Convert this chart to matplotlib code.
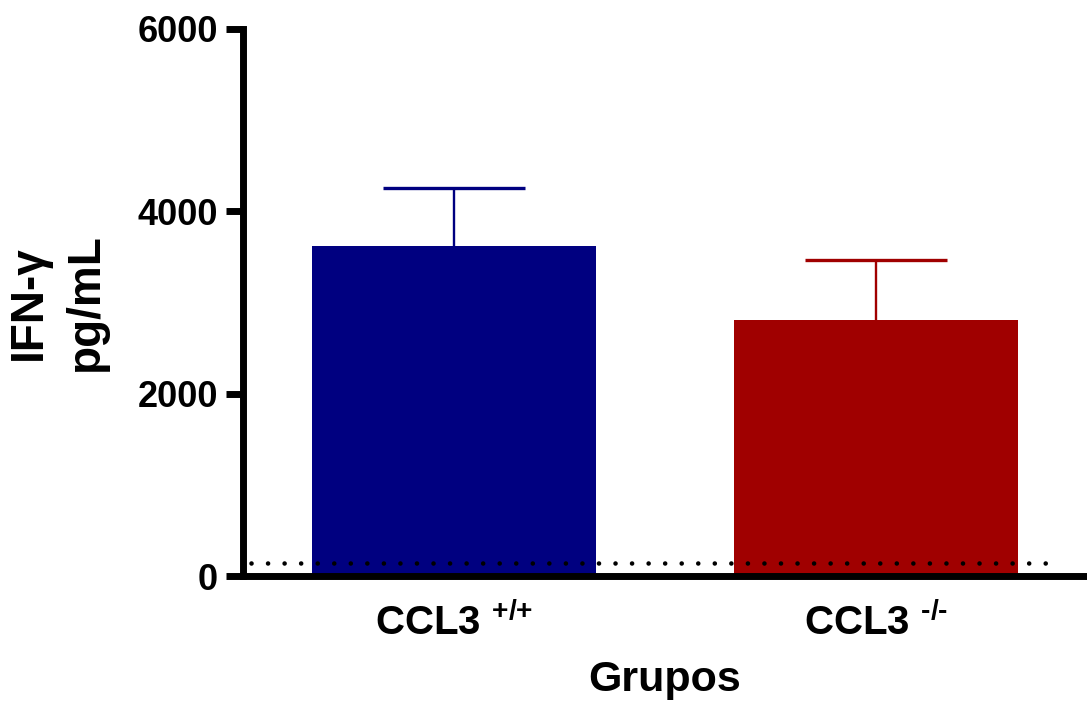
import matplotlib.pyplot as plt
import numpy as np

plt.rcParams['font.family'] = ['Liberation Sans', 'DejaVu Sans']
plt.rcParams['font.weight'] = 'bold'
plt.rcParams['mathtext.fontset'] = 'custom'
plt.rcParams['mathtext.rm'] = 'Liberation Sans:bold'
plt.rcParams['mathtext.bf'] = 'Liberation Sans:bold'
plt.rcParams['mathtext.it'] = 'Liberation Sans:bold'

# data
groups = [r'CCL3 $^{\text{+/+}}$', r'CCL3 $^{\text{-/-}}$']
means = [3620, 2810]
sem = [635, 650]
colors = ['#000080', '#A00000']
lod = 150          # dotted line (limite de deteccao)
yticks = [0, 2000, 4000, 6000]

fig = plt.figure(figsize=(10.87, 7.02), dpi=100)
ax = fig.add_axes([0.2236, 0.1788, 0.7764, 0.7806])

x = np.arange(len(groups))
ax.bar(x, means, width=0.674, color=colors, zorder=2)
for xi, m, e, c in zip(x, means, sem, colors):
    _, caps, _ = ax.errorbar(xi, m, yerr=[[0], [e]], color=c, elinewidth=1.7,
                             capsize=51, capthick=2.4, zorder=1)
    caps[0].set_visible(False)

ax.plot([-0.48, 1.42], [lod, lod], color='black', linewidth=3.3,
        dashes=(0.01, 3.6), dash_capstyle='round', zorder=3)

ax.set_xlim(-0.5, 1.5)
ax.set_ylim(0, 6000)
ax.set_yticks(yticks)
ax.set_xticks(x)
ax.set_xticklabels(groups, fontsize=29, fontweight='bold')
ax.tick_params(axis='x', length=0, pad=19)
ax.tick_params(axis='y', length=12, width=5, labelsize=26, pad=6)
for lab in ax.get_yticklabels():
    lab.set_fontweight('bold')

for s in ['top', 'right']:
    ax.spines[s].set_visible(False)
for s in ['left', 'bottom']:
    ax.spines[s].set_linewidth(5)

ax.set_ylabel('IFN-γ\npg/mL', fontsize=33, fontweight='bold', linespacing=1.4)
ax.yaxis.set_label_coords(-0.16, 0.5)
ax.set_xlabel('Grupos', fontsize=31, fontweight='bold')
ax.xaxis.set_label_coords(0.5, -0.152)
ax.xaxis.label.set_va('top')

fig.savefig('out.png', dpi=100)
